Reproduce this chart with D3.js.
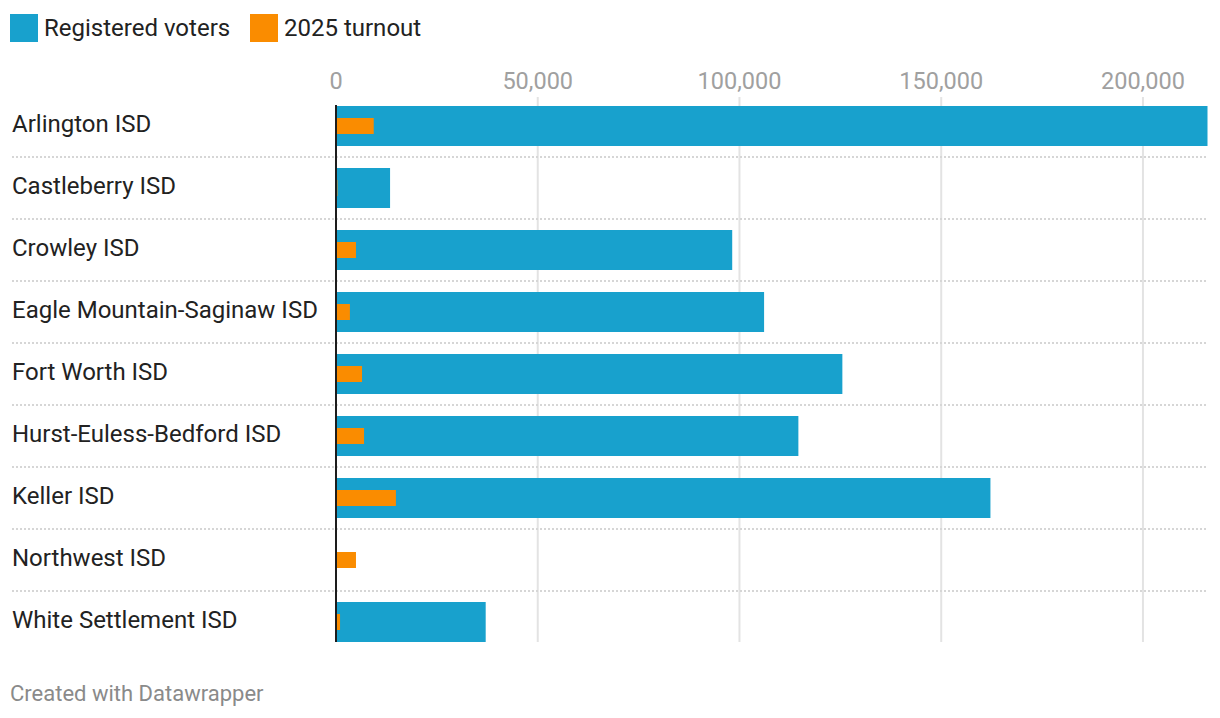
<!DOCTYPE html>
<html lang="en">
<head>
    <meta charset="UTF-8">
    <title>Registered voters vs 2025 turnout</title>
    <script src="https://d3js.org/d3.v7.min.js"></script>
    <style>
        html, body {
            margin: 0;
            padding: 0;
            background: #fff;
            overflow: hidden;
        }
        svg {
            font-family: Roboto, "Noto Sans", sans-serif;
        }
        .grid line {
            stroke: #e3e3e3;
            stroke-width: 2px;
        }
        .sep {
            stroke: #d6d6d6;
            stroke-width: 2px;
            stroke-dasharray: 2 2;
        }
    </style>
</head>
<body>
    <script>
        const districts = [
            "Arlington ISD", "Castleberry ISD", "Crowley ISD", "Eagle Mountain-Saginaw ISD",
            "Fort Worth ISD", "Hurst-Euless-Bedford ISD", "Keller ISD", "Northwest ISD",
            "White Settlement ISD"
        ];
        const registered = [216000, 13400, 98200, 106100, 125500, 114600, 162200, 0, 37100];
        const turnout = [9350, 350, 4950, 3450, 6450, 6950, 14850, 4950, 1000];
        const ticks = [0, 50000, 100000, 150000, 200000];

        const width = 1220, height = 718;
        const svg = d3.select("body").append("svg")
            .attr("width", width)
            .attr("height", height);

        const x = d3.scaleLinear()
            .domain([0, 216000])
            .range([336, 1207.5]);

        const y = d3.scaleBand()
            .domain(districts)
            .range([95, 653])
            .paddingInner(0);

        const barH = 40, turnH = 16;
        const rowMid = d => y(d) + y.bandwidth() / 2;

        // legend
        const legendItems = [
            {label: "Registered voters", color: "#18a1cd", x: 10},
            {label: "2025 turnout", color: "#fa8c00", x: 250}
        ];
        const legend = svg.append("g");
        legend.selectAll("rect").data(legendItems).enter().append("rect")
            .attr("x", d => d.x).attr("y", 14)
            .attr("width", 28).attr("height", 28)
            .attr("fill", d => d.color);
        legend.selectAll("text").data(legendItems).enter().append("text")
            .attr("x", d => d.x + 34).attr("y", 36)
            .attr("font-size", 24)
            .attr("fill", "#222")
            .text(d => d.label);

        // vertical grid
        const grid = svg.append("g").attr("class", "grid");
        grid.selectAll("line").data(ticks.slice(1)).enter().append("line")
            .attr("x1", d => x(d)).attr("x2", d => x(d))
            .attr("y1", 97).attr("y2", 642);

        // axis labels
        svg.append("g").selectAll("text").data(ticks).enter().append("text")
            .attr("x", d => x(d)).attr("y", 89)
            .attr("text-anchor", "middle")
            .attr("font-size", 23.5)
            .attr("fill", "#a0a0a0")
            .text(d => d3.format(",")(d));

        // dotted row separators
        svg.append("g").selectAll("line").data(districts.slice(0, -1)).enter().append("line")
            .attr("class", "sep")
            .attr("x1", 12).attr("x2", 1208)
            .attr("y1", d => y(d) + y.bandwidth()).attr("y2", d => y(d) + y.bandwidth());

        // row labels
        svg.append("g").selectAll("text").data(districts).enter().append("text")
            .attr("x", 12).attr("y", d => rowMid(d) + 5.5)
            .attr("font-size", 24)
            .attr("fill", "#222")
            .text(d => d);

        // bars
        const rows = districts.map((d, i) => ({name: d, reg: registered[i], turn: turnout[i]}));

        svg.append("g").selectAll("rect").data(rows).enter().append("rect")
            .attr("x", x(0))
            .attr("y", d => rowMid(d.name) - barH / 2)
            .attr("width", d => x(d.reg) - x(0))
            .attr("height", barH)
            .attr("fill", "#18a1cd");

        svg.append("g").selectAll("rect").data(rows).enter().append("rect")
            .attr("x", x(0))
            .attr("y", d => rowMid(d.name) - turnH / 2)
            .attr("width", d => x(d.turn) - x(0))
            .attr("height", turnH)
            .attr("fill", "#fa8c00");

        // zero baseline
        svg.append("line")
            .attr("x1", x(0)).attr("x2", x(0))
            .attr("y1", 105).attr("y2", 642)
            .attr("stroke", "#1d1d1d")
            .attr("stroke-width", 2);

        // footer
        svg.append("text")
            .attr("x", 10).attr("y", 701)
            .attr("font-size", 22)
            .attr("fill", "#8a8a8a")
            .text("Created with Datawrapper");
    </script>
</body>
</html>
